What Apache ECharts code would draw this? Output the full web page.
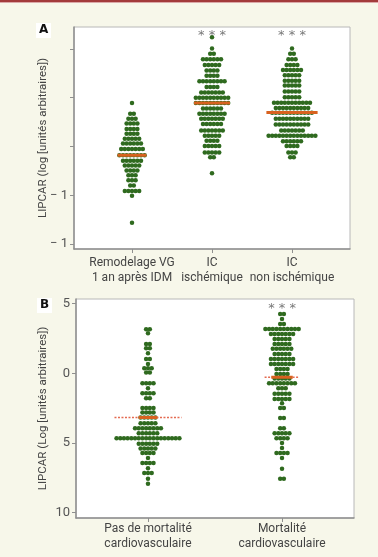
<!DOCTYPE html>
<html>
<head>
<meta charset="utf-8">
<script src="https://cdn.jsdelivr.net/npm/echarts@6/dist/echarts.min.js"></script>
<style>
html, body { margin: 0; padding: 0; background: #f7f7ea; }
#chart { width: 378px; height: 557px; }
</style>
</head>
<body>
<div id="chart"></div>
<script>
// panel A
var groupsA = ['Remodelage VG\n1 an après IDM', 'IC\nischémique', 'IC\nnon ischémique'];
var ticksA = [-2, -1, 0, 1, 2];
var tickLabelsA = ['− 1', '− 1', '', '', ''];
// each swarm row: level of the row and number of dots on it
var levelsA1 = [0.89, 0.67, 0.57, 0.47, 0.36, 0.26, 0.16, 0.06, -0.05, -0.18, -0.29, -0.39, -0.49, -0.59, -0.69, -0.80, -0.91, -1.01, -1.56];
var countsA1 = [1, 2, 3, 4, 4, 4, 5, 6, 7, 8, 6, 5, 4, 3, 3, 2, 5, 1, 1];
var levelsA2 = [2.24, 2.01, 1.90, 1.79, 1.67, 1.56, 1.45, 1.34, 1.22, 1.11, 1.00, 0.89, 0.78, 0.67, 0.57, 0.46, 0.33, 0.22, 0.12, 0.01, -0.12, -0.22, -0.55];
var countsA2 = [1, 1, 2, 6, 5, 4, 4, 8, 4, 7, 10, 10, 6, 8, 7, 6, 7, 5, 4, 5, 5, 2, 1];
var levelsA3 = [2.01, 1.90, 1.79, 1.67, 1.57, 1.46, 1.35, 1.25, 1.13, 1.01, 0.90, 0.79, 0.69, 0.57, 0.45, 0.33, 0.22, 0.11, 0.01, -0.12, -0.22];
var countsA3 = [1, 2, 3, 4, 6, 5, 5, 5, 5, 5, 11, 10, 12, 10, 10, 7, 14, 6, 4, 3, 2];
var mediansA = [-0.18, 0.89, 0.70];
var sigA = ['', '* * *', '* * *'];

// panel B
var groupsB = ['Pas de mortalité\ncardiovasculaire', 'Mortalité\ncardiovasculaire'];
var ticksB = [-5, 0, 5, 10];
var tickLabelsB = ['5', '0', '5', '10'];
var levelsB1 = [-3.17, -2.88, -2.11, -1.80, -1.45, -1.04, -0.68, -0.37, -0.06, 0.70, 1.06, 1.42, 1.78, 2.49, 2.81, 3.17, 3.57, 3.93, 4.29, 4.65, 5.05, 5.39, 5.72, 6.08, 6.44, 6.80, 7.15, 7.56, 7.92];
var countsB1 = [2, 1, 2, 2, 1, 2, 1, 3, 2, 4, 1, 4, 2, 4, 4, 5, 5, 8, 6, 18, 6, 5, 4, 1, 4, 1, 3, 1, 1];
var levelsB2 = [-4.27, -3.91, -3.55, -3.19, -2.83, -2.47, -2.11, -1.76, -1.40, -1.04, -0.68, -0.32, 0.04, 0.36, 0.70, 1.06, 1.47, 1.83, 2.14, 2.49, 3.21, 3.93, 4.29, 4.65, 5.00, 5.36, 5.72, 6.08, 6.85, 7.56];
var countsB2 = [2, 1, 2, 10, 7, 5, 5, 6, 5, 7, 7, 4, 4, 5, 8, 3, 5, 5, 1, 2, 2, 2, 5, 4, 1, 1, 4, 1, 1, 2];
var mediansB = [3.17, 0.27];
var sigB = ['', '* * *'];

var font = 'Open Sans';
var labelFont = 'Roboto';
var dotColor = '#2f6a1f';
var medColor = '#d8621f';

// lay the dots of each row side by side around the group position
function swarm(levels, counts, center, pitch) {
  var pts = [];
  for (var i = 0; i < levels.length; i++) {
    var n = counts[i];
    for (var j = 0; j < n; j++) {
      pts.push([center + (j - (n - 1) / 2) * pitch, levels[i]]);
    }
  }
  return pts;
}

function dots(data, ax, size) {
  return {
    type: 'scatter', xAxisIndex: ax, yAxisIndex: ax, data: data,
    symbolSize: size, itemStyle: { color: dotColor, opacity: 1 },
    silent: true, z: 2
  };
}

function median(center, value, half, ax, width, dashed) {
  return {
    type: 'line', xAxisIndex: ax, yAxisIndex: ax,
    data: [[center - half, value], [center + half, value]],
    symbol: 'none', silent: true, z: dashed ? 3 : 4,
    lineStyle: { color: dashed ? '#e46a50' : medColor, width: width, type: dashed ? [2, 1.5] : 'solid' }
  };
}

function stars(labels, level, ax) {
  var data = [];
  labels.forEach(function (s, i) { if (s) data.push({ value: [i + 1, level], label: { formatter: s } }); });
  return {
    type: 'scatter', xAxisIndex: ax, yAxisIndex: ax, data: data, symbolSize: 1,
    itemStyle: { color: 'transparent' }, silent: true, z: 5,
    label: { show: true, position: 'inside', offset: [0, 3], color: '#555', fontSize: 13, fontFamily: 'DejaVu Sans' }
  };
}

var axisGray = '#8f8f8f';

var series = [
  dots(swarm(levelsA1, countsA1, 1, 0.045), 0, 4.5),
  dots(swarm(levelsA2, countsA2, 2, 0.045), 0, 4.5),
  dots(swarm(levelsA3, countsA3, 3, 0.045), 0, 4.5),
  median(1, mediansA[0], 0.18, 0, 3, false),
  median(2, mediansA[1], 0.225, 0, 3, false),
  median(3, mediansA[2], 0.32, 0, 3, false),
  stars(sigA, 2.33, 0),
  dots(swarm(levelsB1, countsB1, 1, 0.0276), 1, 4.5),
  dots(swarm(levelsB2, countsB2, 2, 0.0276), 1, 4.5),
  median(1, mediansB[0], 0.25, 1, 1.5, true),
  median(1, mediansB[0], 0.07, 1, 3, false),
  median(2, mediansB[1], 0.13, 1, 1.5, true),
  median(2, mediansB[1], 0.08, 1, 3, false),
  stars(sigB, -4.84, 1)
];

var chart = echarts.init(document.getElementById('chart'));
chart.setOption({
  backgroundColor: '#f7f7ea',
  animation: false,
  textStyle: { fontFamily: font },
  grid: [
    { left: 74, top: 27, width: 276, height: 222, show: true, backgroundColor: '#fff', borderColor: '#b8b8b8', borderWidth: 1 },
    { left: 76, top: 299, width: 278, height: 219, show: true, backgroundColor: '#fff', borderColor: '#b8b8b8', borderWidth: 1 }
  ],
  xAxis: [
    {
      type: 'value', gridIndex: 0, min: 0.275, max: 3.725,
      splitLine: { show: false },
      axisLine: { onZero: false, lineStyle: { color: axisGray, width: 1.5 } },
      axisTick: { customValues: [1, 2, 3], length: 4, lineStyle: { color: axisGray } },
      axisLabel: { customValues: [1, 2, 3], formatter: function (v) { return groupsA[Math.round(v) - 1]; },
        color: '#444', fontSize: 12, lineHeight: 15, margin: 6, fontFamily: labelFont }
    },
    {
      type: 'value', gridIndex: 1, min: 0.463, max: 2.537,
      splitLine: { show: false },
      axisLine: { onZero: false, lineStyle: { color: axisGray, width: 1.5 } },
      axisTick: { customValues: [1, 2], length: 4, lineStyle: { color: axisGray } },
      axisLabel: { customValues: [1, 2], formatter: function (v) { return groupsB[Math.round(v) - 1]; },
        color: '#444', fontSize: 12, lineHeight: 15, margin: 3, fontFamily: labelFont }
    }
  ],
  yAxis: [
    {
      type: 'value', gridIndex: 0, min: -2.1, max: 2.45,
      splitLine: { show: false },
      axisLine: { show: true, onZero: false, lineStyle: { color: axisGray, width: 1.5 } },
      axisTick: { show: true, customValues: ticksA, length: 4, lineStyle: { color: axisGray } },
      axisLabel: { customValues: ticksA, formatter: function (v) { return tickLabelsA[ticksA.indexOf(v)] || ''; },
        color: '#555', fontSize: 13, margin: 6, fontFamily: labelFont },
      name: 'LIPCAR (log [unités arbitraires])', nameLocation: 'middle', nameGap: 25, nameMoveOverlap: false,
      nameTextStyle: { color: '#444', fontSize: 11.5, fontFamily: labelFont }
    },
    {
      type: 'value', gridIndex: 1, inverse: true, min: -5.34, max: 10.38,
      splitLine: { show: false },
      axisLine: { show: true, onZero: false, lineStyle: { color: axisGray, width: 1.5 } },
      axisTick: { show: true, customValues: ticksB, length: 4, lineStyle: { color: axisGray } },
      axisLabel: { customValues: ticksB, formatter: function (v) { return tickLabelsB[ticksB.indexOf(v)] || ''; },
        color: '#555', fontSize: 13, margin: 6, fontFamily: labelFont },
      name: 'LIPCAR (Log [unités arbitraires])', nameLocation: 'middle', nameGap: 27, nameMoveOverlap: false,
      nameTextStyle: { color: '#444', fontSize: 11.5, fontFamily: labelFont }
    }
  ],
  graphic: [
    { type: 'rect', left: 0, top: 0, shape: { width: 378, height: 2 }, style: { fill: '#a33b3b' } },
    { type: 'rect', left: 0, top: 2, shape: { width: 378, height: 1 }, style: { fill: '#dba9a9' } },
    { type: 'rect', left: 36, top: 23, shape: { width: 15, height: 15 }, style: { fill: '#fff' } },
    { type: 'text', left: 39, top: 24, style: { text: 'A', font: 'bold 12px "DejaVu Sans"', fill: '#111' } },
    { type: 'rect', left: 37, top: 298, shape: { width: 15, height: 15 }, style: { fill: '#fff' } },
    { type: 'text', left: 40, top: 299, style: { text: 'B', font: 'bold 12px "DejaVu Sans"', fill: '#111' } }
  ],
  series: series
});
</script>
</body>
</html>
